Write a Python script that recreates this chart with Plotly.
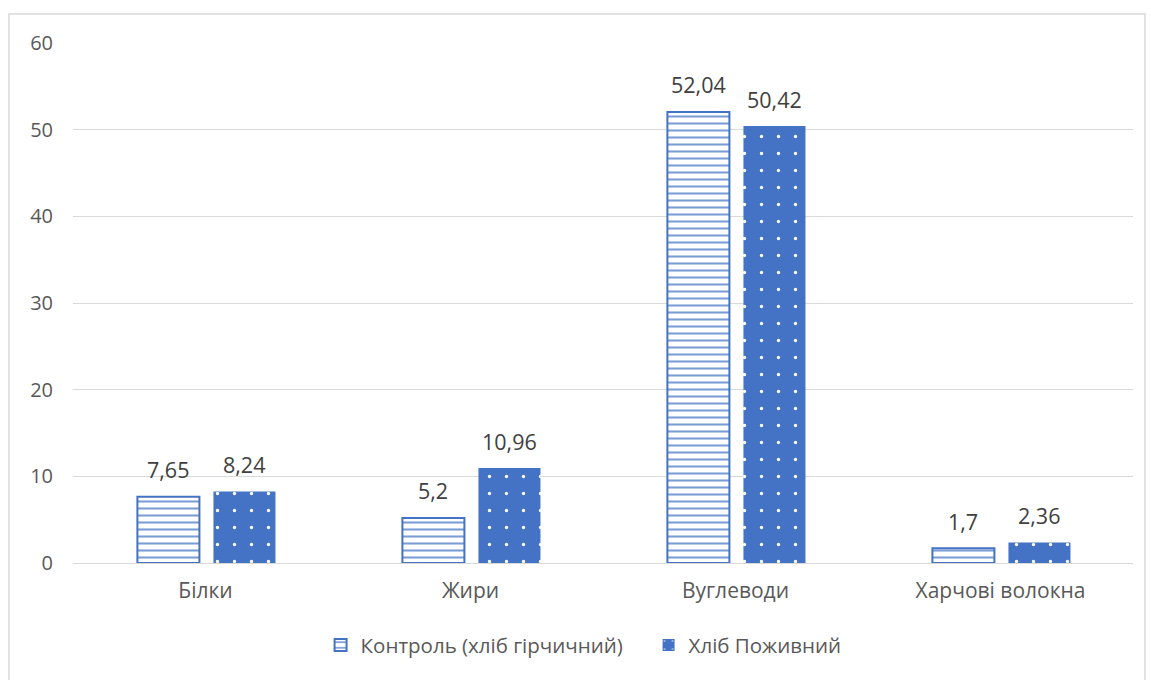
import plotly.graph_objects as go

categories = ["Білки", "Жири", "Вуглеводи", "Харчові волокна"]
control_values = [7.65, 5.2, 52.04, 1.7]
nutri_values = [8.24, 10.96, 50.42, 2.36]
series_names = ["Контроль (хліб гірчичний)", "Хліб Поживний"]
y_ticks = [0, 10, 20, 30, 40, 50, 60]

BLUE = "#4472C4"
TEXT = "#404040"
AXIS_TEXT = "#595959"
FONT = "Open Sans"

BAR_W = 0.234          # bar width, category units
OFFSETS = [-0.257, 0.030]  # left edge of each series' bar relative to category centre
CAT_PX = 265           # pixels per category


def comma(v):
    return f"{v}".replace(".", ",")


fig = go.Figure()

fig.add_trace(go.Bar(
    x=categories, y=control_values, name=series_names[0],
    width=BAR_W, offset=OFFSETS[0],
    marker=dict(
        color="white",
        line=dict(color=BLUE, width=2),
        pattern=dict(shape="-", fgcolor=BLUE, bgcolor="white", fgopacity=0.7,
                     size=7, solidity=0.3, fillmode="replace"),
    ),
))

fig.add_trace(go.Bar(
    x=categories, y=nutri_values, name=series_names[1],
    width=BAR_W, offset=OFFSETS[1],
    marker=dict(
        color=BLUE,
        line=dict(color=BLUE, width=0),
        pattern=dict(shape=".", fgcolor="white", bgcolor=BLUE,
                     size=17, solidity=0.03, fillmode="replace"),
    ),
))

# value labels above each bar
for values, off in zip([control_values, nutri_values], OFFSETS):
    shift = (off + BAR_W / 2) * CAT_PX
    for cat, v in zip(categories, values):
        fig.add_annotation(x=cat, y=v, text=comma(v), showarrow=False,
                           xshift=shift, yshift=27, yanchor="middle",
                           font=dict(size=21.5, color=TEXT, family=FONT))

# outer chart-area frame
fig.add_shape(type="rect", xref="paper", yref="paper",
              x0=-0.0604, x1=1.0113, y0=-0.4, y1=1.0558,
              line=dict(color="#d9d9d9", width=1.5), layer="below")

fig.update_layout(
    width=1151, height=680,
    margin=dict(l=73, r=18, t=43, b=117),
    paper_bgcolor="white", plot_bgcolor="white",
    barmode="group",
    font=dict(family=FONT, color=AXIS_TEXT, size=20),
    showlegend=True,
    legend=dict(orientation="h", x=0.543, xanchor="center",
                y=-0.158, yanchor="middle",
                font=dict(size=20.5, color=AXIS_TEXT, family=FONT),
                itemwidth=30, entrywidth=283, traceorder="normal"),
    xaxis=dict(showgrid=False, showline=True, linecolor="#d9d9d9",
               linewidth=1, ticks="", ticklabelstandoff=9,
               tickfont=dict(size=21, color=AXIS_TEXT, family=FONT)),
    yaxis=dict(range=[0, 60], tickvals=y_ticks, showgrid=True,
               gridcolor="#d9d9d9", gridwidth=1, zeroline=False,
               showline=False, ticks="", ticklabelstandoff=19,
               tickfont=dict(size=20, color=AXIS_TEXT, family=FONT)),
)

fig.write_html("out.html")
